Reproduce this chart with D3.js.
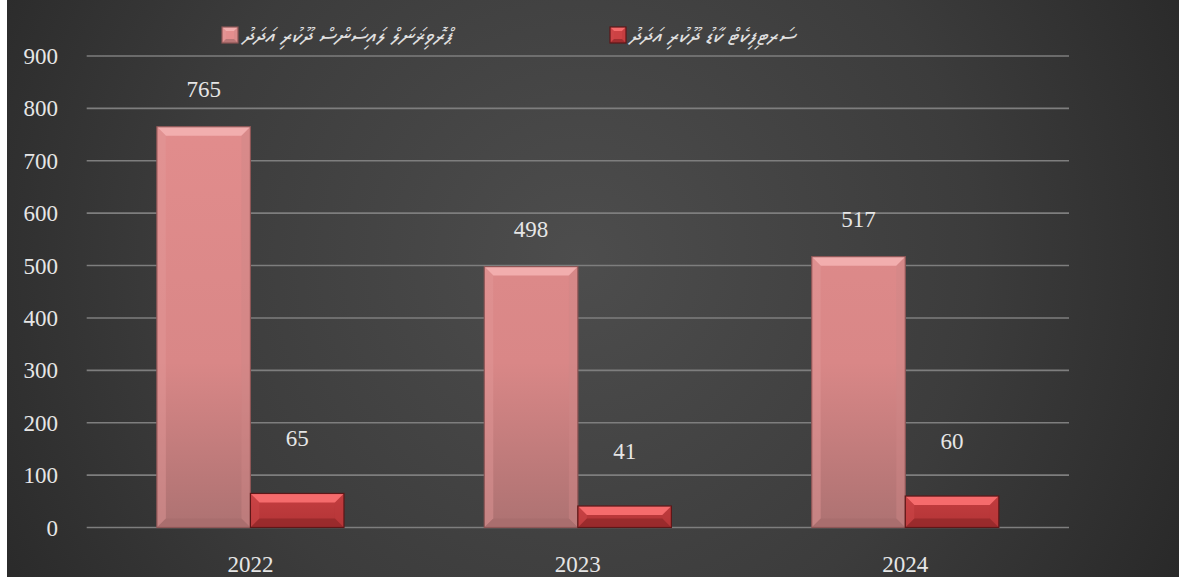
<!DOCTYPE html>
<html><head><meta charset="utf-8">
<script src="https://cdn.jsdelivr.net/npm/d3@7"></script>
<style>
html,body{margin:0;padding:0;background:#fff;}
svg{display:block;}
</style></head>
<body>
<script>
// ---- data ----
const years = ["2022", "2023", "2024"];
const seriesNames = ["ޕްރޮވިޜަނަލް ލައިސަންސް ދޫކުރި އަދަދު", "ސަރޓިފިކެޓް ކާޑު ދޫކުރި އަދަދު"];
const series1 = [765, 498, 517];
const series2 = [65, 41, 60];
const yTicks = [0, 100, 200, 300, 400, 500, 600, 700, 800, 900];

(function(){
const W = 1179, H = 577;
const svg = d3.select("body").append("svg").attr("width", W).attr("height", H);
const defs = svg.append("defs");

// background
const bg = defs.append("radialGradient").attr("id","bg").attr("gradientUnits","userSpaceOnUse")
  .attr("cx",580).attr("cy",260).attr("r",720);
bg.append("stop").attr("offset","0").attr("stop-color","#4d4d4d");
bg.append("stop").attr("offset","0.55").attr("stop-color","#3c3c3c");
bg.append("stop").attr("offset","1").attr("stop-color","#262626");
svg.append("rect").attr("x",0).attr("y",0).attr("width",W).attr("height",H).attr("fill","#fff");
svg.append("rect").attr("x",7).attr("y",0).attr("width",W-7).attr("height",H).attr("fill","url(#bg)");

const pLeft = 86.7, pRight = 1069, pTop = 56, pBottom = 527.5;
const y = d3.scaleLinear().domain([0, 900]).range([pBottom, pTop]);
const x0 = d3.scaleBand().domain(years).range([pLeft, pRight]).paddingInner(0).paddingOuter(0);
const x1 = d3.scaleBand().domain([0, 1]).range([0, x0.bandwidth()]).paddingInner(0).paddingOuter(0.75);

// gridlines
svg.append("g").selectAll("line").data(yTicks).join("line")
  .attr("x1", pLeft).attr("x2", pRight)
  .attr("y1", d => y(d)).attr("y2", d => y(d))
  .attr("stroke", "#7e7e7e").attr("stroke-width", 1.6);

const numFont = "'Liberation Serif','Times New Roman',serif";
// y axis labels
svg.append("g").selectAll("text").data(yTicks).join("text")
  .attr("x", 58).attr("y", d => y(d)).attr("dy", "0.35em")
  .attr("text-anchor", "end")
  .attr("font-family", numFont)
  .attr("font-size", 23).attr("fill", "#e6e6e6")
  .text(d => d);

// x labels
svg.append("g").selectAll("text").data(years).join("text")
  .attr("x", d => x0(d) + x0.bandwidth()/2).attr("y", 572)
  .attr("text-anchor", "middle")
  .attr("font-family", numFont)
  .attr("font-size", 23).attr("fill", "#e6e6e6")
  .text(d => d);

// bar face gradients
const g1 = defs.append("linearGradient").attr("id","face1").attr("gradientUnits","userSpaceOnUse")
  .attr("x1",0).attr("x2",0).attr("y1",pTop).attr("y2",pBottom);
g1.append("stop").attr("offset","0").attr("stop-color","#e48e8e");
g1.append("stop").attr("offset","0.65").attr("stop-color","#d98787");
g1.append("stop").attr("offset","1").attr("stop-color","#ad7272");
const g2 = defs.append("linearGradient").attr("id","face2").attr("gradientUnits","userSpaceOnUse")
  .attr("x1",0).attr("x2",0).attr("y1",480).attr("y2",pBottom);
g2.append("stop").attr("offset","0").attr("stop-color","#cd4244");
g2.append("stop").attr("offset","1").attr("stop-color","#b23436");

const styles = [
  {face:"url(#face1)", top:"#f2aeae", left:"#e29898", right:"#cf8888", bottom:"#a66c6c", stroke:"#8e5656"},
  {face:"url(#face2)", top:"#f56b6c", left:"#d14a4c", right:"#bd3a3c", bottom:"#8e2628", stroke:"#5e1718"}
];

function bevelBar(g, x, yy, w, h, st) {
  const b = Math.min(9, h/2.2, w/4);
  g.append("rect").attr("x", x).attr("y", yy).attr("width", w).attr("height", h).attr("fill", st.face);
  const P = pts => pts.map(p => p.join(",")).join(" ");
  g.append("polygon").attr("points", P([[x,yy],[x+w,yy],[x+w-b,yy+b],[x+b,yy+b]])).attr("fill", st.top);
  g.append("polygon").attr("points", P([[x,yy],[x+b,yy+b],[x+b,yy+h-b],[x,yy+h]])).attr("fill", st.left).attr("opacity",0.45);
  g.append("polygon").attr("points", P([[x+w,yy],[x+w,yy+h],[x+w-b,yy+h-b],[x+w-b,yy+b]])).attr("fill", st.right).attr("opacity",0.45);
  g.append("polygon").attr("points", P([[x,yy+h],[x+b,yy+h-b],[x+w-b,yy+h-b],[x+w,yy+h]])).attr("fill", st.bottom).attr("opacity",0.7);
  g.append("rect").attr("x", x).attr("y", yy).attr("width", w).attr("height", h)
    .attr("fill", "none").attr("stroke", st.stroke).attr("stroke-width", 1.2);
}

const allSeries = [series1, series2];
const labelOffsets = [38, 55];
const barsG = svg.append("g");
allSeries.forEach((vals, si) => {
  vals.forEach((v, i) => {
    const bx = x0(years[i]) + x1(si);
    bevelBar(barsG, bx, y(v), x1.bandwidth(), y(0) - y(v), styles[si]);
  });
  svg.append("g").selectAll("text").data(vals).join("text")
    .attr("x", (d, i) => x0(years[i]) + x1(si) + x1.bandwidth()/2)
    .attr("y", d => y(d) - labelOffsets[si]).attr("dy", "0.35em")
    .attr("text-anchor", "middle")
    .attr("font-family", numFont)
    .attr("font-size", 23).attr("fill", "#e6e6e6")
    .text(d => d);
});

// legend
const legendItems = [{x: 222, tx: 242, st: styles[0]}, {x: 610, tx: 629, st: styles[1]}];
legendItems.forEach((it, i) => {
  const lg = svg.append("g");
  bevelBar(lg, it.x, 27, 16, 16, it.st);
  lg.append("text").attr("x", it.tx).attr("y", 35).attr("dy","0.35em")
    .attr("text-anchor","start")
    .attr("font-family","Faruma,'MV Boli','Noto Sans Thaana','DejaVu Sans',sans-serif")
    .attr("font-style","italic")
    .attr("font-size", 22).attr("fill", "#e0e0e0")
    .text(seriesNames[i]);
});
})();
</script>
</body></html>
